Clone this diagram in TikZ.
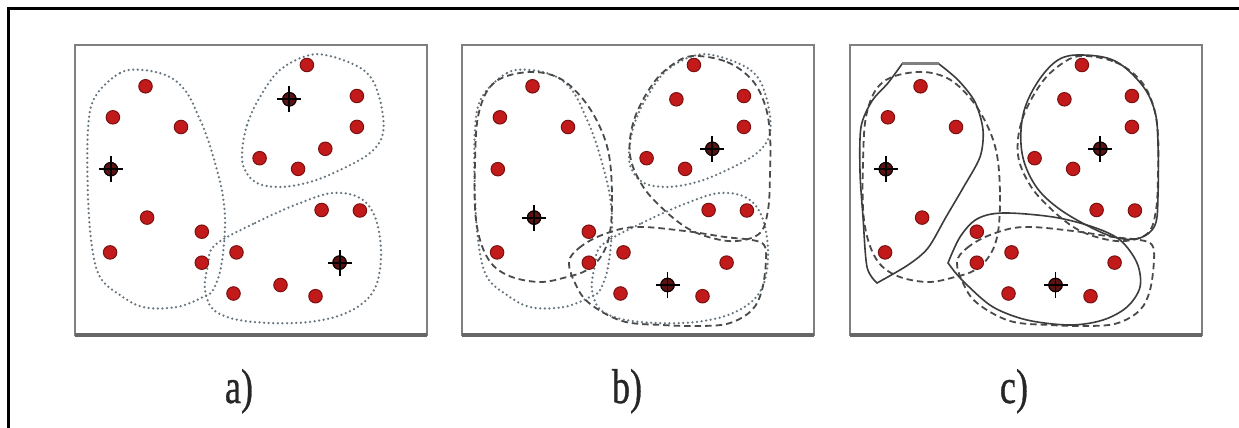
\documentclass[tikz,border=0pt]{standalone}
\usepackage{fontspec}
\setmainfont{Liberation Serif}
\newfontfamily\labfont[FakeBold=0.8]{Liberation Serif}
\definecolor{framegray}{HTML}{808080}
\definecolor{dotgray}{HTML}{66747E}
\definecolor{dashgray}{HTML}{4A4A4A}
\definecolor{solidgray}{HTML}{3C3C3C}
\definecolor{dotred}{HTML}{C21A1A}
\definecolor{dotrim}{HTML}{7A1010}
\definecolor{centred}{HTML}{5A1212}
\tikzset{
  dotc/.style={draw=dotgray, line width=2.5pt, dash pattern=on 0pt off 4.6pt, line cap=round},
  dashc/.style={draw=dashgray, line width=1.8pt, dash pattern=on 6.5pt off 4pt},
  solidc/.style={draw=solidgray, line width=1.6pt},
  reddot/.style={circle, inner sep=0pt, minimum size=13.5pt, fill=dotred, draw=dotrim, line width=1pt},
  centdot/.style={circle, inner sep=0pt, minimum size=13.5pt, fill=centred, draw=black, line width=1pt},
  crossln/.style={draw=black, line width=1.9pt},
  panelframe/.style={draw=framegray, line width=2.5pt},
  panelbase/.style={draw=framegray!80!black, line width=3.5pt},
  lab/.style={font=\labfont\fontsize{49}{49}\selectfont, text=black!85, xscale=0.74, anchor=base, inner sep=0pt},
}
% contours, panel-relative coordinates
\newcommand\contLD[1]{\draw[#1] plot[smooth cycle, tension=0.6] coordinates {(20,52) (45,28) (68,25) (95,32) (112,48) (122,68) (132,92) (142,125) (148,152) (150,182) (146,222) (138,245) (128,252) (102,262) (68,262) (42,248) (25,232) (17,202) (13,152) (13,85)};}
\newcommand\contTD[1]{\draw[#1] plot[smooth cycle, tension=0.6] coordinates {(167,108) (172,80) (185,52) (205,25) (235,10) (262,13) (292,28) (305,55) (308,88) (295,108) (265,125) (235,137) (205,142) (182,138) (170,125)};}
\newcommand\contBD[1]{\draw[#1] plot[smooth cycle, tension=0.6] coordinates {(140,200) (180,178) (225,158) (258,148) (285,153) (300,172) (306,205) (302,238) (288,258) (260,272) (220,278) (170,276) (140,266) (130,245) (133,220)};}
\newcommand\contLE[1]{\draw[#1] plot[smooth cycle, tension=0.6] coordinates {(147,110) (150,150) (148,187) (140,210) (125,225) (105,232) (77,237) (45,230) (25,212) (14,175) (13,117) (17,67) (33,37) (67,27) (97,33) (120,53) (137,80)};}
\newcommand\contTE[1]{\draw[#1] plot[smooth cycle, tension=0.6] coordinates {(231,11) (265,17) (290,35) (303,60) (308,90) (308,130) (306,165) (298,188) (275,196) (250,193) (225,183) (200,163) (180,140) (168,110) (172,75) (190,40) (210,20)};}
\newcommand\contBE[1]{\draw[#1] plot[smooth cycle, tension=0.6] coordinates {(107,217) (117,203) (140,190) (173,182) (223,186) (263,192) (290,195) (302,200) (304,215) (300,245) (290,265) (268,278) (240,281) (200,280) (160,276) (127,258) (113,238)};}
\newcommand\contLS[1]{\draw[#1] plot[smooth, tension=0.5] coordinates {(89,19) (108,35) (125,57) (133,85) (130,112) (113,143) (96,172) (78,203) (58,220) (27,238)} -- plot[smooth, tension=0.5] coordinates {(27,238) (17,222) (13,172) (10,127) (11,82) (22,56) (38,38) (52,19)} -- cycle;
  \draw[#1, line width=3pt, draw=framegray] (52,19) -- (89,19);}
\newcommand\contTS[1]{\draw[#1] plot[smooth cycle, tension=0.6] coordinates {(208,15) (232,10) (265,16) (292,40) (305,67) (308,100) (308,150) (305,180) (290,193) (268,193) (242,183) (208,163) (185,140) (172,108) (173,70) (187,38)};}
\newcommand\contBS[1]{\draw[#1] plot[smooth, tension=0.55] coordinates {(98,218) (110,192) (127,174) (153,168) (203,172) (243,182) (270,195) (287,218) (290,242) (277,262) (253,275) (220,280) (177,275) (143,262) (117,240) (104,226)} -- cycle;}
\newcommand\pdots[1]{\foreach \px/\py [count=\k] in {70.5/41.3, 37.9/72.3, 106/82, 35.8/124.2, 72.1/172.6, 35.1/207.4, 126.8/186.7, 126.8/217.7, 231.9/20, 214.4/54.3, 281.9/51, 281.9/81.9, 250.3/103.8, 184.6/113.2, 223.1/123.9, 246.6/165, 284.9/165.5, 161.5/207.4, 264.6/217.6, 205.5/240, 158.5/248.5, 240.5/251.2}{\node[reddot] (#1\k) at (\px,\py) {};}}
\newcommand\mkcross[1]{\node[centdot] (#1c) at (#1) {};
  \draw[crossln] ([xshift=-12pt]#1.center) -- ([xshift=12pt]#1.center);
  \draw[crossln] ([yshift=-13pt]#1.center) -- ([yshift=13pt]#1.center);}
\newcommand\pframe{\draw[panelframe] (0,0) rectangle (352,290); \draw[panelbase] (0,290) -- (352,290);}
\begin{document}
\begin{tikzpicture}[x=1pt, y=-1pt]
\useasboundingbox (0,0) rectangle (1239,428);
\fill[white] (0,0) rectangle (1239,428);
\draw[line width=3.5pt] (8.5,428) -- (8.5,8.5) -- (1239,8.5);
% panel a
\begin{scope}[shift={(75,45)}]
  \pframe
  \contLD{dotc} \contTD{dotc} \contBD{dotc}
  \pdots{a}
  \mkcross{a4} \mkcross{a10} \mkcross{a19}
\end{scope}
% panel b
\begin{scope}[shift={(462,45)}]
  \pframe
  \contLD{dotc} \contTD{dotc} \contBD{dotc}
  \contLE{dashc} \contTE{dashc} \contBE{dashc}
  \pdots{b}
  \mkcross{b5} \mkcross{b13} \mkcross{b20}
\end{scope}
% panel c
\begin{scope}[shift={(850,45)}]
  \pframe
  \contLE{dashc} \contTE{dashc} \contBE{dashc}
  \contLS{solidc} \contTS{solidc} \contBS{solidc}
  \pdots{c}
  \mkcross{c4} \mkcross{c13} \mkcross{c20}
\end{scope}
\node[lab] (la) at (239,403) {a)};
\node[lab] (lb) at (627,403) {b)};
\node[lab] (lc) at (1014,403) {c)};
\end{tikzpicture}
\end{document}
